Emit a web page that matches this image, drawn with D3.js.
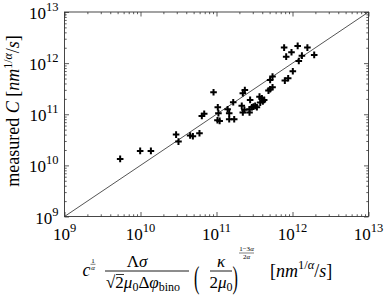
<!DOCTYPE html>
<html><head><meta charset="utf-8">
<script src="https://cdn.jsdelivr.net/npm/d3@7"></script>
<style>
html,body{margin:0;padding:0;background:#fff;}
svg{display:block;}
text{font-family:"Liberation Serif","DejaVu Serif",serif;fill:#000;}
</style></head>
<body>
<script>
// predicted values (x) and measured C (y)
const predicted = [5.4e9,9.9e9,1.37e10,2.94e10,3.16e10,4.5e10,4.89e10,5.97e10,6.41e10,6.89e10,
  9.14e10,1.04e11,1.06e11,1.03e11,1.10e11,1.40e11,1.47e11,1.47e11,1.71e11,1.66e11,
  2.22e11,2.36e11,2.15e11,2.22e11,2.33e11,2.72e11,2.77e11,2.72e11,2.92e11,3.07e11,
  3.23e11,3.40e11,3.68e11,3.95e11,3.76e11,4.07e11,4.24e11,4.83e11,5.08e11,5.46e11,
  5.08e11,5.46e11,7.76e11,8.26e11,9.7e11,7.93e11,8.77e11,1.01e12,1.17e12,1.21e12,
  1.33e12,1.57e12,1.93e12];
const measured = [1.34e10,1.92e10,1.92e10,4.0e10,2.92e10,3.83e10,3.72e10,4.26e10,9.27e10,1.02e11,
  2.69e11,1.37e11,1.05e11,7.64e10,7.41e10,1.25e11,1.05e11,7.98e10,7.98e10,1.72e11,
  2.57e11,2.99e11,1.46e11,1.08e11,1.22e11,1.25e11,1.91e11,1.08e11,1.37e11,1.41e11,
  1.46e11,1.37e11,2.21e11,2.05e11,1.69e11,1.77e11,1.91e11,2.90e11,3.08e11,3.37e11,
  4.69e11,5.45e11,2.01e12,1.34e12,1.63e12,4.55e11,5.06e11,6.92e11,2.17e12,1.10e12,
  1.40e12,2.01e12,1.45e12];
const decadeExponents = [9,10,11,12,13];
const domainLimits = [1e9,1e13];

const W=384,H=295;
const svg=d3.select("body").append("svg").attr("width",W).attr("height",H);
const L=64.5,R=368.5,T=12,B=216.5;
const x=d3.scaleLog().domain(domainLimits).range([L,R]);
const y=d3.scaleLog().domain(domainLimits).range([B,T]);

const major=decadeExponents.map(e=>Math.pow(10,e));
const minor=[];
decadeExponents.slice(0,-1).forEach(e=>{for(let k=2;k<10;k++)minor.push(k*Math.pow(10,e));});

// diagonal
svg.append("line").attr("x1",x(domainLimits[0])).attr("y1",y(domainLimits[0]))
  .attr("x2",x(domainLimits[1])).attr("y2",y(domainLimits[1]))
  .attr("stroke","#555").attr("stroke-width",1);

// axes with inward ticks
function ax(gen,tr,vals,size){
  const g=svg.append("g").attr("transform",tr).call(gen.tickValues(vals).tickSize(size).tickFormat(""));
  g.select(".domain").remove();
  g.selectAll("line").attr("stroke","#333").attr("stroke-width",0.8);
}
[[major,-4.5],[minor,-2.2]].forEach(([v,s])=>{
  ax(d3.axisBottom(x),`translate(0,${B})`,v,s);
  ax(d3.axisTop(x),`translate(0,${T})`,v,s);
  ax(d3.axisLeft(y),`translate(${L},0)`,v,s);
  ax(d3.axisRight(y),`translate(${R},0)`,v,s);
});
svg.append("rect").attr("x",L).attr("y",T).attr("width",R-L).attr("height",B-T)
  .attr("fill","none").attr("stroke","#333").attr("stroke-width",0.9);

// points
const pts=svg.append("g");
predicted.forEach((px,i)=>{
  const cx=x(px),cy=y(measured[i]);
  pts.append("path").attr("d",`M${cx-3.3},${cy}H${cx+3.3}M${cx},${cy-3.3}V${cy+3.3}`)
    .attr("stroke","#000").attr("stroke-width",2);
});

// tick labels
decadeExponents.forEach(e=>{
  const v=Math.pow(10,e);
  const t=svg.append("text").attr("x",x(v)).attr("y",239.5).attr("text-anchor","middle").attr("font-size",17);
  t.append("tspan").text("10");
  t.append("tspan").attr("font-size",12.5).attr("dy",-8).text(e);
  const t2=svg.append("text").attr("x",58.5).attr("y",y(v)+7).attr("text-anchor","end").attr("font-size",17);
  t2.append("tspan").text("10");
  t2.append("tspan").attr("font-size",12.5).attr("dy",-8).text(e);
});

// y label
const yl=svg.append("text").attr("transform","translate(19,111) rotate(-90)").attr("text-anchor","middle").attr("font-size",18);
yl.append("tspan").text("measured ");
yl.append("tspan").attr("font-style","italic").text("C");
yl.append("tspan").text(" [");
yl.append("tspan").attr("font-style","italic").text("nm");
yl.append("tspan").attr("font-size",12).attr("dy",-7).text("1/");
yl.append("tspan").attr("font-size",12).attr("font-style","italic").text("α");
yl.append("tspan").attr("dy",7).text("/");
yl.append("tspan").attr("font-style","italic").text("s");
yl.append("tspan").text("]");

// x label (math)
function txt(xx,yy,s,size,opt={}){
  const t=svg.append("text").attr("x",xx).attr("y",yy).attr("font-size",size)
    .attr("text-anchor",opt.anchor||"start");
  if(opt.italic)t.attr("font-style","italic");
  t.text(s);return t;
}
function bar(x1,x2,yy,w){svg.append("line").attr("x1",x1).attr("x2",x2).attr("y1",yy).attr("y2",yy).attr("stroke","#000").attr("stroke-width",w||0.8);}
txt(82.5,276,"c",18,{italic:true});
txt(93,263,"1",7,{anchor:"middle"}); bar(90.5,95.5,264.3,0.5); txt(93,269.5,"α",7,{anchor:"middle",italic:true});
// big fraction
const num=svg.append("text").attr("x",137).attr("y",267).attr("font-size",17).attr("text-anchor","middle");
num.append("tspan").text("Λ"); num.append("tspan").attr("font-style","italic").text("σ");
bar(105,189,271,0.9);
const den=svg.append("text").attr("x",106).attr("y",288).attr("font-size",17);
den.append("tspan").text("√");
den.append("tspan").text("2");
den.append("tspan").attr("font-style","italic").text("μ");
den.append("tspan").attr("font-size",12).attr("dy",3).text("0");
den.append("tspan").attr("dy",-3).text("Δ");
den.append("tspan").attr("font-style","italic").text("φ");
den.append("tspan").attr("font-size",12).attr("dy",3).text("bino");
bar(116,124,274.5,0.8);
// parentheses
svg.append("text").attr("x",0).attr("y",0).attr("font-size",17)
  .attr("transform","translate(194,288) scale(0.95,1.9)").text("(");
svg.append("text").attr("x",0).attr("y",0).attr("font-size",17)
  .attr("transform","translate(232.5,288) scale(0.95,1.9)").text(")");
txt(221,267,"κ",17,{anchor:"middle",italic:true});
bar(210,232,271,0.9);
const d2=svg.append("text").attr("x",221).attr("y",288).attr("font-size",17).attr("text-anchor","middle");
d2.append("tspan").text("2"); d2.append("tspan").attr("font-style","italic").text("μ");
d2.append("tspan").attr("font-size",12).attr("dy",3).text("0");
// exponent
const en=svg.append("text").attr("x",246.5).attr("y",251).attr("font-size",7).attr("text-anchor","middle");
en.append("tspan").text("1−3"); en.append("tspan").attr("font-style","italic").text("α");
bar(239,254,253,0.5);
const ed=svg.append("text").attr("x",246.5).attr("y",259).attr("font-size",7).attr("text-anchor","middle");
ed.append("tspan").text("2"); ed.append("tspan").attr("font-style","italic").text("α");
// units
const u=svg.append("text").attr("x",270).attr("y",277).attr("font-size",18);
u.append("tspan").text("[");
u.append("tspan").attr("font-style","italic").text("nm");
u.append("tspan").attr("font-size",12.5).attr("dy",-8).text("1/");
u.append("tspan").attr("font-size",12.5).attr("font-style","italic").text("α");
u.append("tspan").attr("dy",8).text("/");
u.append("tspan").attr("font-style","italic").text("s");
u.append("tspan").text("]");
</script>
</body></html>
